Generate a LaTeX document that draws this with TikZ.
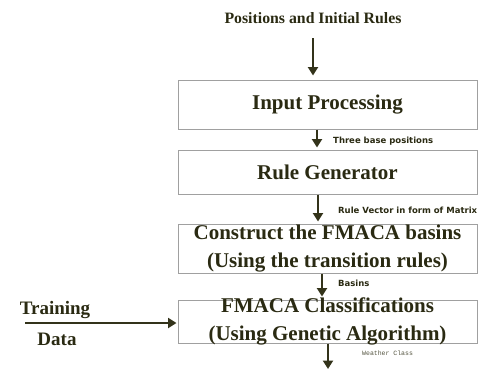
\documentclass[tikz,border=0pt]{standalone}
\usepackage{fontspec}
\setmainfont{Liberation Serif}
\newfontfamily\lblfont{DejaVu Sans}
\newfontfamily\monofnt{Liberation Mono}
\usetikzlibrary{arrows.meta}
\definecolor{ink}{HTML}{2A2A12}
\definecolor{arr}{HTML}{33331A}
\definecolor{edge}{HTML}{A0A0A0}
\begin{document}
\begin{tikzpicture}[x=1pt,y=-1pt,
  box/.style={draw=edge, line width=1pt, minimum width=299pt, inner sep=0pt},
  boxtxt/.style={text=ink, inner sep=0pt, align=center, font=\fontsize{21}{28}\selectfont\bfseries},
  flow/.style={draw=arr, line width=2.8pt, -{Triangle[width=10pt,length=8.5pt]}},
  lbl/.style={font=\lblfont\bfseries\fontsize{8.5}{10}\selectfont, text=ink, anchor=west, inner sep=0pt},
  side/.style={text=ink, inner sep=0pt, font=\fontsize{19}{22}\selectfont\bfseries}]
\useasboundingbox (0,0) rectangle (482,370);
\fill[white] (0,0) rectangle (482,370);
\node[text=ink, inner sep=0pt, font=\fontsize{15.8}{18}\selectfont\bfseries] (title) at (313,18) {Positions and Initial Rules};
\node[box, minimum height=49pt] (b1) at (327.5,104.5) {};
\node[box, minimum height=44pt] (b2) at (327.5,172) {};
\node[box, minimum height=49pt] (b3) at (327.5,248.5) {};
\node[box, minimum height=43pt] (b4) at (327.5,321.5) {};
\node[boxtxt] (t1) at (b1) {Input Processing};
\node[boxtxt] (t2) at (b2) {Rule Generator};
\node[boxtxt] (t3) at (b3) {Construct the FMACA basins\\(Using the transition rules)};
\node[boxtxt] (t4) at (b4) {FMACA Classifications\\(Using Genetic Algorithm)};
\coordinate (a0) at (313,38);
\draw[flow, shorten >=4pt] (a0) -- (a0 |- b1.north);
\draw[flow, shorten >=2pt] ([xshift=-10.5pt]b1.south) -- ([xshift=-10.5pt]b2.north);
\draw[flow, shorten >=2pt] ([xshift=-9.5pt]b2.south) -- ([xshift=-9.5pt]b3.north);
\draw[flow, shorten >=3pt] ([xshift=-5.5pt]b3.south) -- ([xshift=-5.5pt]b4.north);
\coordinate (endpt) at (328,369);
\draw[flow] (b4.south -| endpt) -- (endpt);
\coordinate (tstart) at (25,323);
\draw[flow, shorten >=1pt] (tstart) -- (tstart -| b4.west);
\node[side] (train) at (55,310) {Training};
\node[side] (data) at (57,339) {Data};
\node[lbl] (l1) at (333,141) {Three base positions};
\node[lbl] (l2) at (338,210) {Rule Vector in form of Matrix};
\node[lbl] (l3) at (338,283) {Basins};
\node[font=\monofnt\fontsize{6.5}{8}\selectfont, text=ink!80, anchor=west, inner sep=0pt] (l4) at (362,353) {Weather Class};
\end{tikzpicture}
\end{document}
